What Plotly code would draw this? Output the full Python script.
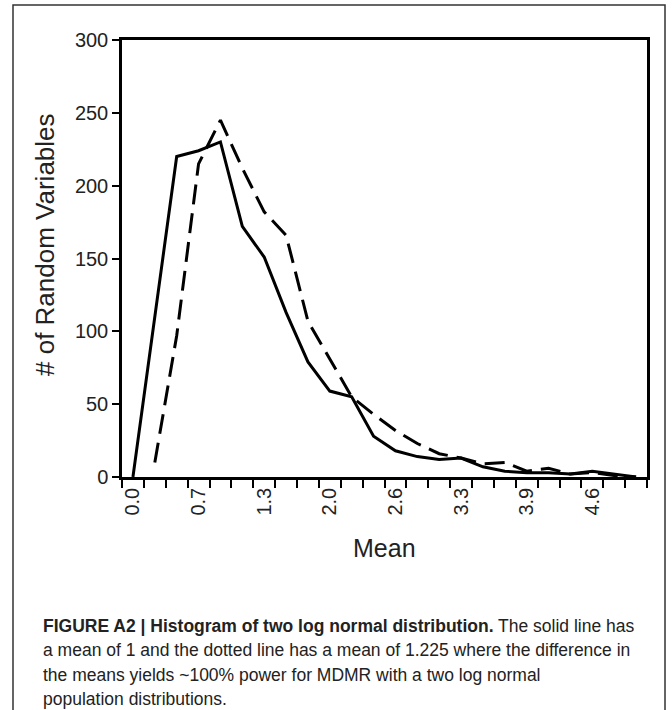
import plotly.graph_objects as go

# ---- data ----
bin_index = list(range(24))
tick_positions = [0, 3, 6, 9, 12, 15, 18, 21]
tick_labels = ["0.0", "0.7", "1.3", "2.0", "2.6", "3.3", "3.9", "4.6"]
solid_mean1 = [0, 110, 220, 224, 230, 172, 151, 113, 79, 59, 55, 28,
               18, 14, 12, 13, 7, 4, 3, 3, 2, 4, 2, 0]
dashed_mean1225 = [None, 10, 97, 215, 245, 212, 182, 166, 107, 81, 55, 43,
                   32, 23, 16, 13, 9, 10, 4, 6, 2, 3, 1, 0]
y_ticks = [0, 50, 100, 150, 200, 250, 300]

caption_lines = [
    "<b>FIGURE A2 | Histogram of two log normal distribution.</b> The solid line has",
    "a mean of 1 and the dotted line has a mean of 1.225 where the difference in",
    "the means yields ~100% power for MDMR with a two log normal",
    "population distributions.",
]

W, H = 672, 710
L, T = 122, 40
R = W - 647
B = H - 477
pw, ph = W - L - R, H - T - B


def px_x(x):
    return (x - L) / pw


def px_y(y):
    return (H - B - y) / ph


fig = go.Figure()
fig.add_trace(go.Scatter(x=bin_index, y=solid_mean1, mode="lines",
                         line=dict(color="black", width=3), showlegend=False))
fig.add_trace(go.Scatter(x=bin_index, y=dashed_mean1225, mode="lines",
                         line=dict(color="black", width=3, dash="20px,9px"),
                         showlegend=False, connectgaps=False))

axis_font = dict(family="Arial, Liberation Sans, sans-serif", size=20, color="#222")

fig.update_xaxes(
    range=[-0.5, 23.5], tickmode="array", tickvals=tick_positions, ticktext=tick_labels,
    tickangle=-90, ticks="", showline=True, linecolor="black", linewidth=2.5,
    mirror=True, showgrid=False, zeroline=False, tickfont=axis_font,
    minor=dict(tickmode="array", tickvals=[i - 0.5 for i in range(25)],
               ticks="outside", ticklen=8, tickwidth=2, tickcolor="black", showgrid=False),
)
fig.update_yaxes(
    range=[0, 300], tickmode="array", tickvals=y_ticks, ticks="outside", ticklen=7,
    tickwidth=2, tickcolor="black", showline=True, linecolor="black", linewidth=2.5,
    mirror=True, showgrid=False, zeroline=False, tickfont=axis_font,
)

annotations = [
    dict(text="Mean", xref="paper", yref="paper", x=0.5, y=px_y(548),
         xanchor="center", yanchor="middle", showarrow=False,
         font=dict(family="Arial, Liberation Sans, sans-serif", size=25, color="#222")),
    dict(text="# of Random Variables", xref="paper", yref="paper", x=px_x(45),
         y=px_y(245), xanchor="center", yanchor="middle", textangle=-90, showarrow=False,
         font=dict(family="Arial, Liberation Sans, sans-serif", size=26, color="#222")),
]
cap_y = [626, 650, 675, 699]
for line, yy in zip(caption_lines, cap_y):
    annotations.append(dict(
        text=line, xref="paper", yref="paper", x=px_x(41), y=px_y(yy),
        xanchor="left", yanchor="middle", showarrow=False,
        font=dict(family="Arial, Liberation Sans, sans-serif", size=17.5, color="#222")))

fig.update_layout(
    width=W, height=H, margin=dict(l=L, r=R, t=T, b=B, autoexpand=False),
    paper_bgcolor="white", plot_bgcolor="white",
    annotations=annotations,
    shapes=[dict(type="rect", xref="paper", yref="paper",
                 x0=px_x(13), x1=px_x(665), y0=px_y(730), y1=px_y(5),
                 line=dict(color="#333", width=1.5), layer="below")],
)

fig.write_html(
    "out.html",
    config={"displayModeBar": False},
    post_script="document.body.style.margin='0px';document.body.style.overflow='hidden';",
)
